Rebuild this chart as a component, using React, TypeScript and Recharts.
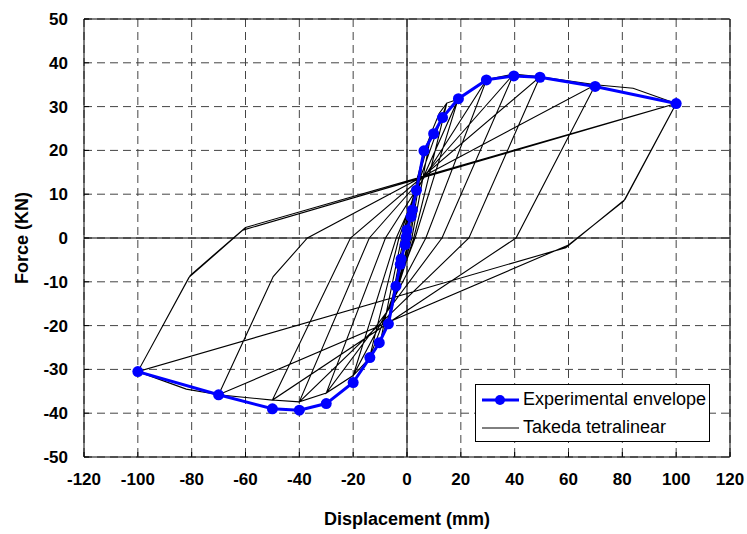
import React from "react";
import {
  ScatterChart,
  Scatter,
  XAxis,
  YAxis,
  CartesianGrid,
  ReferenceLine,
} from "recharts";

const FONT = "'Liberation Sans', Arial, sans-serif";
const BLUE = "#0000FF";

const xTicks = [-120, -100, -80, -60, -40, -20, 0, 20, 40, 60, 80, 100, 120];
const yTicks = [-50, -40, -30, -20, -10, 0, 10, 20, 30, 40, 50];

// experimental envelope (blue line with dots), mm / kN
const envelopeX = [
  -100, -70, -50, -40, -30, -20, -13.8, -10.3, -6.9, -4.1, -2.5, -2.2, -0.7,
  -0.3, 0, 1.5, 2, 3.5, 6.3, 9.9, 13.2, 19.1, 29.5, 39.7, 49.4, 69.9, 100,
];
const envelopeY = [
  -30.5, -35.8, -39, -39.3, -37.8, -33, -27.3, -23.9, -19.6, -11, -6, -4.8,
  -1.5, 0.2, 1.8, 4.9, 6.4, 10.9, 19.9, 23.8, 27.5, 31.8, 36.1, 37, 36.7, 34.6,
  30.7,
];

// Takeda tetralinear backbone, positive and negative branch
const backbonePosX = [0, 2, 4, 6.3, 9, 12, 14.8, 19, 29.6, 39.6, 49.4, 70, 84, 100];
const backbonePosY = [0, 8, 14, 19.5, 24, 28.5, 30.8, 31.7, 36.2, 37.4, 36.8, 35, 34.2, 30.7];
const backboneNegX = [0, -2, -4, -7, -10, -14, -20, -30, -40, -50, -70, -82, -100];
const backboneNegY = [0, -7, -12, -19, -24, -27.5, -31.4, -35.4, -37.4, -37, -35.8, -34.5, -30.5];

// peak displacement of each cycle (last one repeated)
const peakPosX = [4, 6.3, 9, 14.8, 19, 29.6, 39.6, 49.4, 70, 100, 100];
const peakNegX = [-4, -7, -10, -14, -20, -30, -40, -50, -70, -100, -100];

// unloading branch after each peak, down to about zero force
const unloadPos: number[][][] = [
  [[0.8, 0]],
  [[1.2, 0]],
  [[1.8, 0]],
  [[2.5, 0]],
  [[3, 0]],
  [[7, 0]],
  [[13, 0]],
  [[23, 0]],
  [[40.5, 0]],
  [[80.5, 8.4], [60, -1.6]],
  [[81, 8.8], [59, -2.2]],
];
const unloadNeg: number[][][] = [
  [[-0.8, 0]],
  [[-1.3, 0]],
  [[-2, 0]],
  [[-3, 0]],
  [[-4, 0]],
  [[-8, 0]],
  [[-14, 0]],
  [[-21, 0]],
  [[-49.7, -8.8], [-37, 0]],
  [[-81, -9], [-61, 1.8]],
  [[-80.5, -8.5], [-60, 2.4]],
];

type Pt = { x: number; y: number };

const bbPos: Pt[] = backbonePosX.map((x, i) => ({ x, y: backbonePosY[i] }));
const bbNeg: Pt[] = backboneNegX.map((x, i) => ({ x, y: backboneNegY[i] }));
const envelope: Pt[] = envelopeX.map((x, i) => ({ x, y: envelopeY[i] }));

// walk the cycles: reload to previous peak, follow backbone, unload
const takeda: Pt[] = [{ x: 0, y: 0 }];
let prevP = 0;
let prevN = 0;
peakPosX.forEach((px, i) => {
  const nx = peakNegX[i];
  bbPos
    .filter((p) => p.x > 0 && p.x >= prevP && p.x <= px)
    .forEach((p) => takeda.push(p));
  unloadPos[i].forEach(([x, y]) => takeda.push({ x, y }));
  bbNeg
    .filter((p) => p.x < 0 && p.x <= prevN && p.x >= nx)
    .forEach((p) => takeda.push(p));
  unloadNeg[i].forEach(([x, y]) => takeda.push({ x, y }));
  prevP = px;
  prevN = nx;
});
takeda.push(bbPos[bbPos.length - 1]);

const Dot = (props: any) => (
  <circle cx={props.cx} cy={props.cy} r={5.5} fill={BLUE} />
);
const NoDot = () => <g />;

const tickStyle = {
  fontFamily: FONT,
  fontSize: 17,
  fontWeight: "bold" as const,
  fill: "#000",
};

export default function App() {
  return (
    <div
      style={{
        position: "absolute",
        left: 0,
        top: 0,
        width: 747,
        height: 534,
        background: "#fff",
        fontFamily: FONT,
      }}
    >
      <ScatterChart
        width={747}
        height={534}
        margin={{ top: 19, right: 17, bottom: 0, left: 0 }}
      >
        <CartesianGrid stroke="#444" strokeDasharray="8 5" />
        <XAxis
          type="number"
          dataKey="x"
          domain={[-120, 120]}
          ticks={xTicks}
          height={77}
          tickSize={-5}
          tickMargin={21}
          tickLine={{ stroke: "#000" }}
          axisLine={{ stroke: "#000" }}
          tick={tickStyle}
          label={{
            value: "Displacement (mm)",
            position: "insideBottom",
            offset: 9,
            style: { ...tickStyle, fontSize: 18 },
          }}
        />
        <YAxis
          type="number"
          dataKey="y"
          domain={[-50, 50]}
          ticks={yTicks}
          width={84}
          tickSize={-5}
          tickMargin={21}
          tickLine={{ stroke: "#000" }}
          axisLine={{ stroke: "#000" }}
          tick={tickStyle}
          label={{
            value: "Force (KN)",
            angle: -90,
            position: "insideLeft",
            offset: 22,
            style: { ...tickStyle, fontSize: 18, textAnchor: "middle" },
          }}
        />
        <ReferenceLine y={50} stroke="#000" />
        <ReferenceLine x={120} stroke="#000" />
        <ReferenceLine y={0} stroke="#000" />
        <ReferenceLine x={0} stroke="#000" />
        <Scatter
          name="Takeda tetralinear"
          data={takeda}
          line={{ stroke: "#000", strokeWidth: 1.1 }}
          lineType="joint"
          shape={NoDot}
          fill="#000"
          stroke="#000"
          isAnimationActive={false}
        />
        <Scatter
          name="Experimental envelope"
          data={envelope}
          line={{ stroke: BLUE, strokeWidth: 3 }}
          lineType="joint"
          shape={Dot}
          fill={BLUE}
          isAnimationActive={false}
        />
      </ScatterChart>

      {/* legend box */}
      <div
        style={{
          position: "absolute",
          left: 475,
          top: 384,
          width: 235,
          height: 58,
          boxSizing: "border-box",
          border: "1px solid #000",
          background: "#fff",
          fontSize: 18,
          color: "#000",
        }}
      >
        <svg
          width={40}
          height={56}
          style={{ position: "absolute", left: 5, top: 0 }}
        >
          <line x1={1} y1={15} x2={38} y2={15} stroke={BLUE} strokeWidth={3} />
          <circle cx={19} cy={15} r={5} fill={BLUE} />
          <line x1={1} y1={43} x2={38} y2={43} stroke="#000" strokeWidth={1} />
        </svg>
        <div style={{ position: "absolute", left: 47, top: 4, whiteSpace: "nowrap" }}>
          Experimental envelope
        </div>
        <div style={{ position: "absolute", left: 47, top: 32, whiteSpace: "nowrap" }}>
          Takeda tetralinear
        </div>
      </div>
    </div>
  );
}
